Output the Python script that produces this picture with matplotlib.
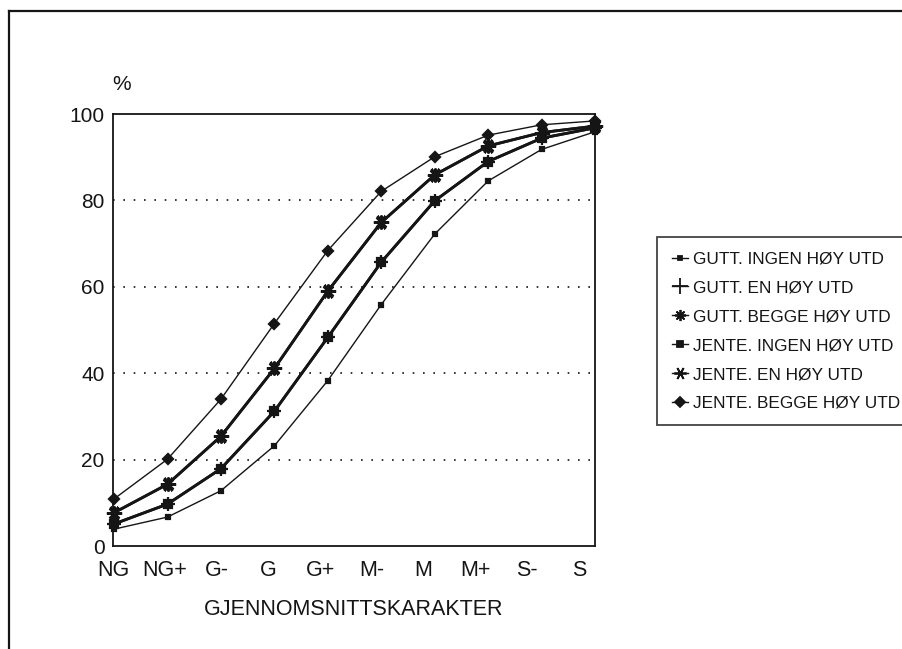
import numpy as np
import matplotlib
matplotlib.use("Agg")
import matplotlib.pyplot as plt
from matplotlib.lines import Line2D

plt.rcParams['font.family'] = ['Liberation Sans', 'DejaVu Sans']

# ---- data ----
grades = ["NG", "NG+", "G-", "G", "G+", "M-", "M", "M+", "S-", "S"]
y_ticks = [0, 20, 40, 60, 80, 100]

series_names = [
    "GUTT. INGEN HØY UTD",
    "GUTT. EN HØY UTD",
    "GUTT. BEGGE HØY UTD",
    "JENTE. INGEN HØY UTD",
    "JENTE. EN HØY UTD",
    "JENTE. BEGGE HØY UTD",
]
gutt_ingen = [3.9, 6.7, 12.8, 23.2, 38.3, 55.9, 72.2, 84.5, 91.8, 95.9]
gutt_en = [5.1, 9.7, 17.9, 31.2, 48.3, 65.7, 79.9, 89.0, 94.4, 96.8]
gutt_begge = [7.7, 14.3, 25.4, 41.1, 59.0, 74.9, 85.9, 92.6, 95.7, 97.2]
jente_ingen = [5.1, 9.7, 17.9, 31.2, 48.3, 65.7, 79.9, 89.0, 94.4, 96.8]
jente_en = [7.7, 14.3, 25.4, 41.1, 59.0, 74.9, 85.9, 92.6, 95.7, 97.2]
jente_begge = [10.9, 20.1, 34.0, 51.5, 68.4, 82.1, 90.1, 95.1, 97.5, 98.4]
all_series = [gutt_ingen, gutt_en, gutt_begge, jente_ingen, jente_en, jente_begge]

# ---- styles ----
ink = "#151515"
markers = ['s', '+', (8, 2, 0), 's', (6, 2, 90), 'D']
msizes = [3, 10, 10, 5.5, 11, 5.5]
lwidths = [1.0, 2.0, 2.0, 2.0, 2.0, 1.0]
leg_msizes = [3, 11, 8, 5, 9, 5.5]

fig = plt.figure(figsize=(9.03, 6.49), dpi=100)
fig.patch.set_facecolor("white")
ax = fig.add_axes([113/903, 1-546/649, (595-113)/903, (546-114)/649])

x = np.arange(len(grades))
for vals, m, ms, lw in zip(all_series, markers, msizes, lwidths):
    ax.plot(x, vals, color=ink, lw=lw, marker=m, markersize=ms,
            markeredgewidth=1.6, markerfacecolor=ink, markeredgecolor=ink,
            solid_joinstyle='round', zorder=3, clip_on=False)

ax.set_xlim(0, len(grades) - 1)
ax.set_ylim(0, 100)
ax.set_yticks(y_ticks)
ax.set_yticklabels([str(v) for v in y_ticks], fontsize=15)
ax.set_xticks(x * 0.969 - 0.02)
ax.set_xticklabels(grades, fontsize=15.5)
ax.tick_params(axis='both', length=0, colors=ink)
ax.tick_params(axis='y', pad=6)
ax.tick_params(axis='x', pad=10)
for v in y_ticks[1:-1]:
    ax.axhline(v, color=ink, lw=1.2, ls=(0, (1.0, 5.2)), zorder=1)
for s in ax.spines.values():
    s.set_color(ink)
    s.set_linewidth(1.3)

ax.set_xlabel("GJENNOMSNITTSKARAKTER", fontsize=15.5, color=ink, labelpad=13)
fig.text(122/903, 1-85/649, "%", fontsize=15, color=ink, ha='center', va='center')

handles = [Line2D([0], [0], color=ink, lw=1.0, marker=m, markersize=ms,
                  markeredgewidth=1.3, markerfacecolor=ink, markeredgecolor=ink)
           for m, ms in zip(markers, leg_msizes)]
leg = fig.legend(handles, series_names, loc='upper left',
                 bbox_to_anchor=(657/903, 1-237/649), bbox_transform=fig.transFigure,
                 fontsize=12.4, frameon=True, fancybox=False, numpoints=1,
                 handlelength=0.95, handletextpad=0.3, borderpad=0.85,
                 labelspacing=0.8, borderaxespad=0)
leg.get_frame().set_edgecolor(ink)
leg.get_frame().set_linewidth(1.3)
for t in leg.get_texts():
    t.set_color(ink)

# outer frame (top and left edges)
fig.add_artist(Line2D([9/903, 1.0], [1-11/649, 1-11/649], color=ink, lw=1.6,
                      transform=fig.transFigure))
fig.add_artist(Line2D([9/903, 9/903], [0, 1-11/649], color=ink, lw=1.6,
                      transform=fig.transFigure))

fig.savefig("out.png", dpi=100, facecolor="white")
